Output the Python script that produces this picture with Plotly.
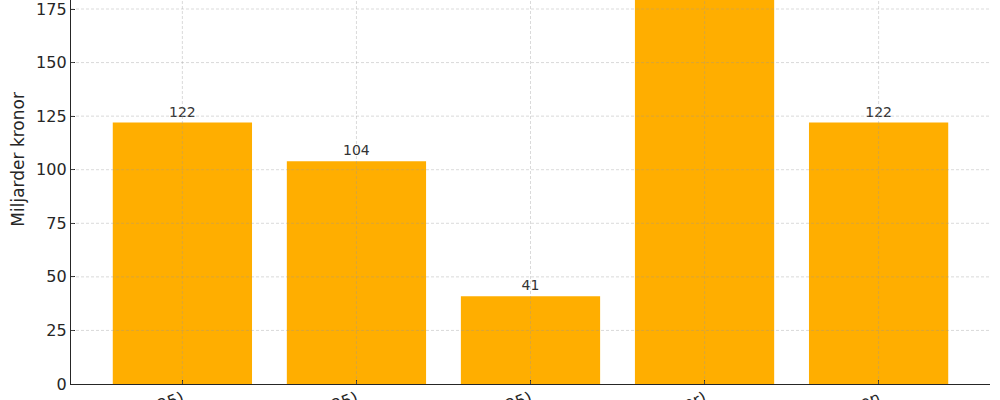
import plotly.graph_objects as go

# data (4th bar runs past the top, value is a guess)
categories = ["Försvarsbudget (2025)", "Statsbidrag till kommuner (2025)",
              "Infrastruktur (2025)", "Sjukvård (regioner)", "Migrationen"]
values = [122, 104, 41, 230, 122]
labels = ["122", "104", "41", "230", "122"]
y_ticks = [0, 25, 50, 75, 100, 125, 150, 175]

bar_color = "#FFAE00"
grid_color = "rgba(150,150,150,0.45)"
font = "DejaVu Sans"

x_pos = list(range(len(categories)))

fig = go.Figure()
fig.add_trace(go.Bar(
    x=x_pos, y=values, width=0.8,
    marker=dict(color=bar_color, line=dict(width=0)),
    text=labels, textposition="outside", cliponaxis=True,
    textfont=dict(family=font, size=14, color="#333333"),
))

# matplotlib-ish grid drawn above the bars
shapes = []
for t in y_ticks[1:]:
    shapes.append(dict(type="line", xref="paper", yref="y", x0=0, x1=1, y0=t, y1=t,
                       layer="above", line=dict(color=grid_color, width=0.8, dash="3px,2px")))
for p in x_pos:
    shapes.append(dict(type="line", xref="x", yref="paper", x0=p, x1=p, y0=0, y1=1,
                       layer="above", line=dict(color=grid_color, width=0.8, dash="3px,2px")))

fig.update_layout(
    width=1000, height=400,
    margin=dict(l=71, r=10, t=0, b=16),
    plot_bgcolor="white", paper_bgcolor="white",
    showlegend=False,
    font=dict(family=font, size=16, color="#262626"),
    shapes=shapes,
    annotations=[dict(text="Miljarder kronor", xref="paper", yref="paper",
                      x=-0.058, y=0.586, textangle=-90, showarrow=False,
                      xanchor="center", yanchor="middle",
                      font=dict(family=font, size=17, color="#262626"))],
)
fig.update_xaxes(
    range=[-0.64, 4.64], tickvals=x_pos, ticktext=categories, tickangle=-20,
    showgrid=False, zeroline=False, automargin=False, ticklabeloverflow="allow",
    ticklabelstandoff=-2,
    showline=True, linecolor="#262626", linewidth=1.3,
    ticks="inside", ticklen=4, tickcolor="#262626",
)
fig.update_yaxes(
    range=[0, 179.2], tickvals=y_ticks, showgrid=False, zeroline=False,
    automargin=False, ticklabeloverflow="allow",
    showline=True, linecolor="#262626", linewidth=1.3,
    ticks="inside", ticklen=4, tickcolor="#262626",
)

# drop the default page margin so the figure sits at the window corner
fig.write_html("out.html", config={"displayModeBar": False},
               post_script="document.body.style.margin='0';")
